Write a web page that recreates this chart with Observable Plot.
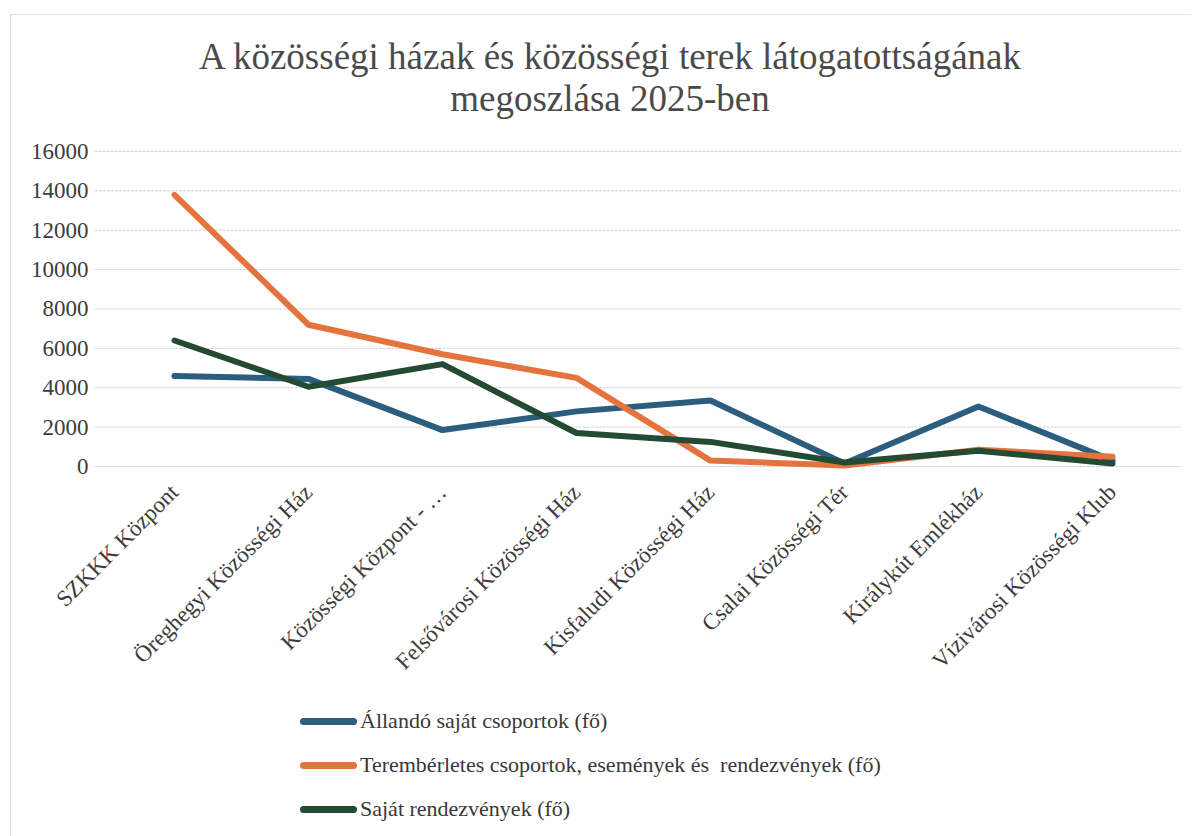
<!DOCTYPE html>
<html>
<head>
<meta charset="utf-8">
<script src="https://cdn.jsdelivr.net/npm/d3@7"></script>
<script src="https://cdn.jsdelivr.net/npm/@observablehq/plot@0.6"></script>
<style>
  html, body { margin: 0; padding: 0; background: #fff; }
  body { width: 1196px; height: 836px; position: relative; overflow: hidden;
         font-family: "Liberation Serif", "Times New Roman", "DejaVu Serif", serif; color: #3c3c3c; }
  #frame { position: absolute; left: 10px; top: 14px; width: 1180px; height: 830px;
           border-left: 1px solid #d8d8d8; border-top: 1px solid #e4e4e4; }
  #title { position: absolute; left: 12px; top: 36px; width: 1196px; text-align: center;
           font-size: 37px; line-height: 42px; color: #4a4a4a; }
  #chart { position: absolute; left: 0; top: 130px; }
  #legend { position: absolute; left: 300px; top: 699px; }
  .item { display: flex; align-items: center; height: 44px; font-size: 22px; color: #383838; }
  .sw { width: 57px; height: 7px; border-radius: 4px; margin-right: 3px; }
</style>
</head>
<body>
<div id="frame"></div>
<div id="title">A közösségi házak és közösségi terek látogatottságának<br>megoszlása 2025-ben</div>
<div id="chart"></div>
<div id="legend"></div>
<script>
const categories = [
  "SZKKK Központ",
  "Öreghegyi Közösségi Ház",
  "Közösségi Központ - …",
  "Felsővárosi Közösségi Ház",
  "Kisfaludi Közösségi Ház",
  "Csalai Közösségi Tér",
  "Királykút Emlékház",
  "Vízivárosi Közösségi Klub"
];
const seriesNames = [
  "Állandó saját csoportok (fő)",
  "Terembérletes csoportok, események és  rendezvények (fő)",
  "Saját rendezvények (fő)"
];
const allando = [4600, 4450, 1850, 2800, 3350, 150, 3050, 300];
const terembérletes = [13800, 7200, 5700, 4500, 300, 50, 850, 500];
const sajat = [6400, 4050, 5200, 1700, 1250, 200, 800, 150];
const yTicks = [0, 2000, 4000, 6000, 8000, 10000, 12000, 14000, 16000];
const colors = ["#2b5d7e", "#e5733d", "#234a33"];

const seriesValues = [allando, terembérletes, sajat];
const rows = [];
seriesValues.forEach((vals, s) => {
  vals.forEach((v, i) => rows.push({ series: seriesNames[s], cat: categories[i], value: v }));
});

const chart = Plot.plot({
  width: 1196,
  height: 570,
  marginTop: 21,
  marginBottom: 234,
  marginLeft: 107,
  marginRight: 17,
  style: { fontFamily: '"Liberation Serif", "Times New Roman", serif', color: "#3c3c3c", background: "transparent" },
  x: { type: "point", domain: categories, padding: 0.5, label: null },
  y: { domain: [0, 16000], label: null },
  color: { domain: seriesNames, range: colors },
  marks: [
    Plot.ruleY(yTicks, { stroke: "#d2d2d2", strokeWidth: 1, strokeDasharray: "3,1", insetLeft: -12, insetRight: -2 }),
    Plot.axisY({ ticks: yTicks, tickSize: 0, tickPadding: 19, fontSize: 23, tickFormat: d => String(d), label: null }),
    Plot.axisX({ tickSize: 0, tickRotate: -45, tickPadding: 22, fontSize: 23, label: null }),
    Plot.line(rows, { x: "cat", y: "value", z: "series", stroke: "series", strokeWidth: 6,
      strokeLinejoin: "round", strokeLinecap: "round" })
  ]
});
document.getElementById("chart").appendChild(chart);

const legend = document.getElementById("legend");
seriesNames.forEach((name, i) => {
  const row = document.createElement("div");
  row.className = "item";
  const sw = document.createElement("div");
  sw.className = "sw";
  sw.style.background = colors[i];
  const t = document.createElement("span");
  t.textContent = name;
  t.style.whiteSpace = "pre";
  row.appendChild(sw);
  row.appendChild(t);
  legend.appendChild(row);
});
</script>
</body>
</html>
